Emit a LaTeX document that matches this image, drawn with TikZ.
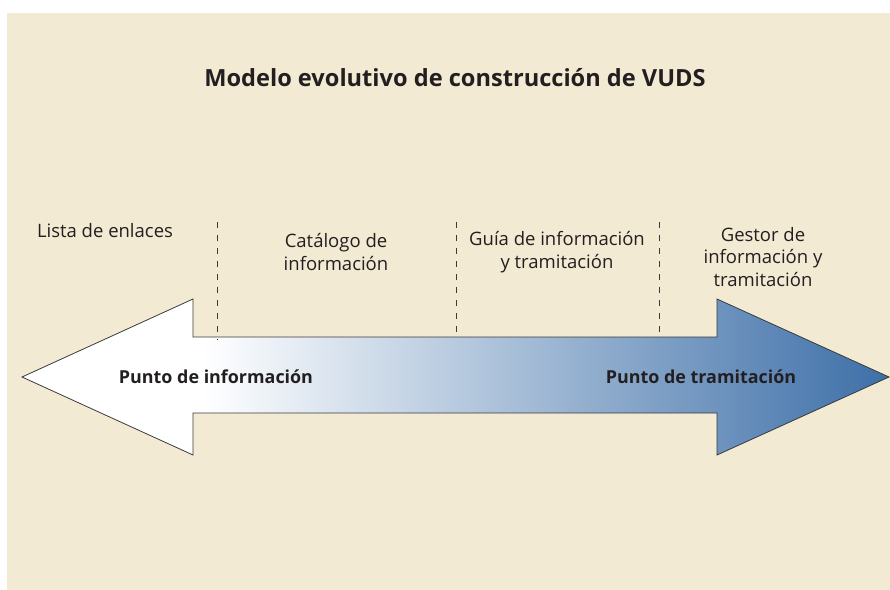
\documentclass[tikz,border=0pt]{standalone}
\usepackage{fontspec}
\setmainfont{Open Sans}
\definecolor{bg}{HTML}{F3EAD4}
\definecolor{ink}{HTML}{231F20}
\definecolor{arrowblue}{HTML}{3D6FA8}
\definecolor{edge}{HTML}{3A3A3A}
\tikzset{
  lbl/.style={font=\fontsize{18.5bp}{22bp}\selectfont, text=ink, align=center, inner sep=0pt, anchor=base},
  boldlbl/.style={font=\fontsize{17.9bp}{22bp}\selectfont\bfseries, text=ink, inner sep=0pt, anchor=base},
  titlelbl/.style={font=\fontsize{23.6bp}{28bp}\selectfont\bfseries, text=ink, inner sep=0pt, anchor=base},
  divider/.style={draw=edge, line width=0.6bp, dash pattern=on 6bp off 7bp},
  arrowedge/.style={draw=edge, line width=0.8bp, line join=miter}
}
\begin{document}
\begin{tikzpicture}[x=1bp,y=-1bp]
\useasboundingbox (0,0) rectangle (890,590);
\fill[white] (0,0) rectangle (890,590);
\fill[bg] (7,13) rectangle (890,590);
% arrow
\def\arrowpath{(22,377) -- (193,299) -- (193,337) -- (717,337) -- (717,299) -- (889,377) -- (717,455) -- (717,413) -- (193,413) -- (193,455) -- cycle}
\begin{scope}
  \clip \arrowpath;
  \fill[white] (20,295) rectangle (892,460);
  \shade[left color=white, right color=arrowblue] (203,295) rectangle (889,460);
\end{scope}
\draw[arrowedge] \arrowpath;
% dividers
\coordinate (d1t) at (217,222); \coordinate (d1b) at (217,340);
\coordinate (d2t) at (456,222); \coordinate (d2b) at (456,337);
\coordinate (d3t) at (659,222); \coordinate (d3b) at (659,337);
\draw[divider] (d1t) -- (d1b);
\draw[divider] (d2t) -- (d2b);
\draw[divider] (d3t) -- (d3b);
% texts
\node[titlelbl] (title) at (455,87) {Modelo evolutivo de construcción de VUDS};
\node[lbl] (lista) at (105,238) {Lista de enlaces};
\node[lbl] (catalogo) at (336,270) {Catálogo de\\información};
\node[lbl] (guia) at (557,268) {Guía de información\\y tramitación};
\node[lbl] (gestor) at (763,286) {Gestor de\\información y\\tramitación};
\node[boldlbl] (pinfo) at (216,383) {Punto de información};
\node[boldlbl] (ptram) at (701,383) {Punto de tramitación};
\end{tikzpicture}
\end{document}
